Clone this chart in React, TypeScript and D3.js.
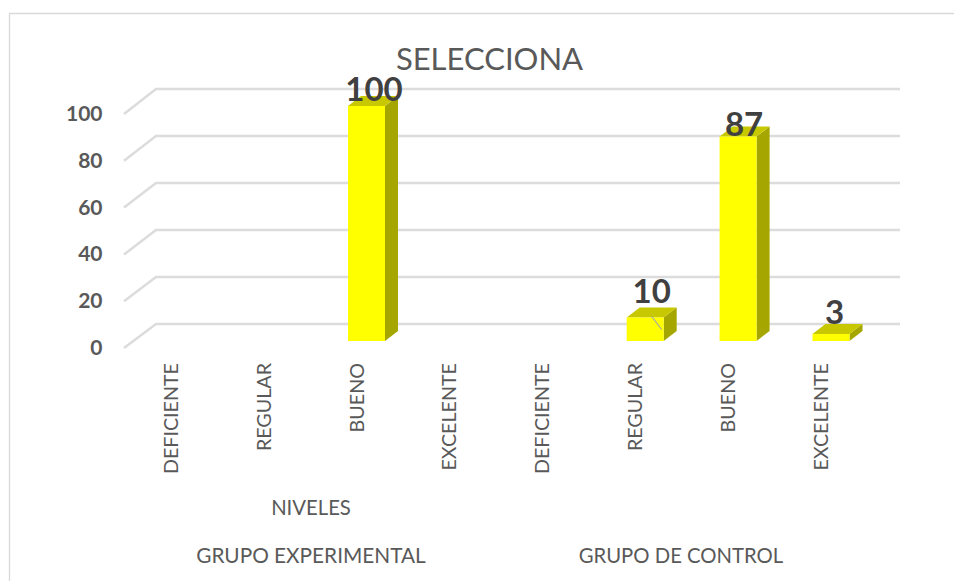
import React from "react";
import * as d3 from "d3";

const categories = ["DEFICIENTE", "REGULAR", "BUENO", "EXCELENTE", "DEFICIENTE", "REGULAR", "BUENO", "EXCELENTE"];
const values: (number | null)[] = [null, null, 100, null, null, 10, 87, 3];
const yTicks = [0, 20, 40, 60, 80, 100];
const groups = ["GRUPO EXPERIMENTAL", "GRUPO DE CONTROL"];
const title = "SELECCIONA";
const axisName = "NIVELES";

const FONT = "Lato, Carlito, 'Open Sans', sans-serif";
const W = 954, H = 581;
const DX = 13, DY = 10;

const yFront = d3.scaleLinear().domain([0, 100]).range([341, 106]);
const yBack = d3.scaleLinear().domain([0, 100]).range([324, 89]);
const yFloor = d3.scaleLinear().domain([0, 100]).range([348, 114]);

const labelLift: Record<number, number> = { 100: 5, 87: 1, 10: 15, 3: 10 };
const labelShift: Record<number, number> = { 100: 26, 87: 24.5, 10: 25, 3: 22 };

export default function App() {
  const bw = 37;
  const step = 92.9;
  const barX = (i: number) => 348 + (i - 2) * step;
  return (
    <svg width={W} height={H} viewBox={`0 0 ${W} ${H}`} style={{ position: "absolute", left: 0, top: 0, background: "#fff" }} fontFamily={FONT}>
      <path d={`M954 13.5H9.5V581`} fill="none" stroke="#d9d9d9" strokeWidth={1.3} />
      <text x={489.5} y={70} textAnchor="middle" fontSize={31} fill="#595959">{title}</text>

      {yTicks.map(t => (
        <g key={t}>
          <path d={`M124 ${yFloor(t)}L156 ${yBack(t)}H900`} fill="none" stroke="#dcdcdc" strokeWidth={2.5} />
          <text x={102.5} y={yFloor(t) + 7} textAnchor="end" fontSize={21} fontWeight={700} fill="#595959">{t}</text>
        </g>
      ))}

      {values.map((v, i) => {
        if (v == null) return null;
        const bx = barX(i), top = yFront(v), base = yFront(0);
        return (
          <g key={i}>
            <path d={`M${bx + bw} ${top}l${DX} ${-DY}V${base - DY}l${-DX} ${DY}Z`} fill="#a6a600" />
            <path d={`M${bx} ${top}l${DX} ${-DY}h${bw}l${-DX} ${DY}Z`} fill="#c8c800" />
            <rect x={bx} y={top} width={bw} height={base - top} fill="#ffff00" />
          </g>
        );
      })}

      <path d={`M${barX(5) + 25} ${yFront(10) - 1}l10 13`} stroke="#a6a6a6" strokeWidth={1.2} fill="none" />

      {values.map((v, i) => v == null ? null : (
        <text key={i} x={barX(i) + labelShift[v]} y={yFront(v) - labelLift[v]} textAnchor="middle" fontSize={33} fontWeight={700} fill="#404040">{v}</text>
      ))}

      {categories.map((c, i) => {
        const cx = barX(i) + bw / 2 - 3;
        return (
          <text key={i} transform={`translate(${cx},363) rotate(-90)`} textAnchor="end" fontSize={19.7} fill="#595959">{c}</text>
        );
      })}

      <text x={311} y={515} textAnchor="middle" fontSize={20.3} fill="#595959">{axisName}</text>
      <text x={311} y={563} textAnchor="middle" fontSize={20.8} fill="#595959">{groups[0]}</text>
      <text x={681} y={563} textAnchor="middle" fontSize={20.3} fill="#595959">{groups[1]}</text>
    </svg>
  );
}
